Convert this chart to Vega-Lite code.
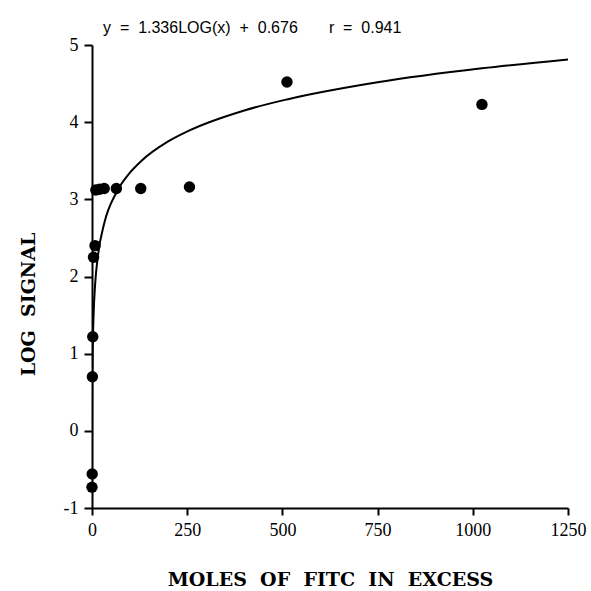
{
  "$schema": "https://vega.github.io/schema/vega-lite/v6.json",
  "width": 476,
  "height": 463,
  "autosize": "none",
  "padding": {"left": 92, "top": 45, "right": 23, "bottom": 83},
  "background": "white",
  "title": {
    "text": "y\u00a0\u00a0=\u00a0\u00a01.336LOG(x)\u00a0\u00a0+\u00a0\u00a00.676\u00a0\u00a0\u00a0\u00a0\u00a0\u00a0\u00a0r\u00a0\u00a0=\u00a0\u00a00.941",
    "anchor": "start",
    "frame": "group",
    "dx": 11,
    "offset": -13,
    "baseline": "alphabetic",
    "font": "Liberation Sans",
    "fontSize": 16,
    "fontWeight": "normal",
    "color": "black"
  },
  "config": {
    "view": {"stroke": null},
    "axis": {
      "domainColor": "black",
      "domainWidth": 2,
      "tickColor": "black",
      "tickWidth": 2,
      "grid": false,
      "labelFont": "Liberation Serif",
      "labelFontSize": 18,
      "labelColor": "black",
      "labelFlush": false,
      "labelOverlap": false,
      "titleFont": "DejaVu Serif",
      "titleFontSize": 19,
      "titleFontWeight": "bold",
      "titleColor": "black"
    }
  },
  "datasets": {
    "points": [
      {"x": 0, "y": -0.73},
      {"x": 0.5, "y": -0.56},
      {"x": 1, "y": 0.70},
      {"x": 2, "y": 1.22},
      {"x": 4, "y": 2.25},
      {"x": 8, "y": 2.40},
      {"x": 10, "y": 3.12},
      {"x": 20, "y": 3.13},
      {"x": 32, "y": 3.14},
      {"x": 64, "y": 3.14},
      {"x": 128, "y": 3.14},
      {"x": 256, "y": 3.16},
      {"x": 512, "y": 4.52},
      {"x": 1024, "y": 4.23}
    ],
    "curve": [
      {"x": 0.06, "y": -0.956},
      {"x": 0.1, "y": -0.66},
      {"x": 0.2, "y": -0.258},
      {"x": 0.5, "y": 0.274},
      {"x": 1, "y": 0.676},
      {"x": 2, "y": 1.078},
      {"x": 4, "y": 1.480},
      {"x": 8, "y": 1.882},
      {"x": 16, "y": 2.285},
      {"x": 32, "y": 2.687},
      {"x": 64, "y": 3.089},
      {"x": 100, "y": 3.348},
      {"x": 128, "y": 3.491},
      {"x": 200, "y": 3.750},
      {"x": 256, "y": 3.893},
      {"x": 400, "y": 4.152},
      {"x": 512, "y": 4.295},
      {"x": 750, "y": 4.517},
      {"x": 1024, "y": 4.698},
      {"x": 1250, "y": 4.813}
    ]
  },
  "layer": [
    {
      "data": {"name": "curve"},
      "mark": {"type": "line", "color": "black", "strokeWidth": 2, "clip": true, "interpolate": "monotone"},
      "encoding": {
        "x": {
          "field": "x", "type": "quantitative",
          "scale": {"domain": [0, 1250], "nice": false, "zero": false},
          "axis": {
            "values": [0, 250, 500, 750, 1000, 1250],
            "labelExpr": "'' + datum.value",
            "title": "MOLES\u00a0\u00a0OF\u00a0\u00a0FITC\u00a0\u00a0IN\u00a0\u00a0EXCESS",
            "tickSize": 7,
            "labelPadding": 6,
            "titlePadding": 31
          }
        },
        "y": {
          "field": "y", "type": "quantitative",
          "scale": {"domain": [-1, 5], "nice": false, "zero": false},
          "axis": {
            "values": [-1, 0, 1, 2, 3, 4, 5],
            "labelExpr": "'' + datum.value",
            "title": "LOG\u00a0\u00a0SIGNAL",
            "titleY": 259,
            "tickSize": 8,
            "labelPadding": 6,
            "titlePadding": 25
          }
        }
      }
    },
    {
      "data": {"name": "points"},
      "mark": {"type": "circle", "color": "black", "opacity": 1, "size": 130},
      "encoding": {
        "x": {"field": "x", "type": "quantitative"},
        "y": {"field": "y", "type": "quantitative"}
      }
    }
  ]
}
